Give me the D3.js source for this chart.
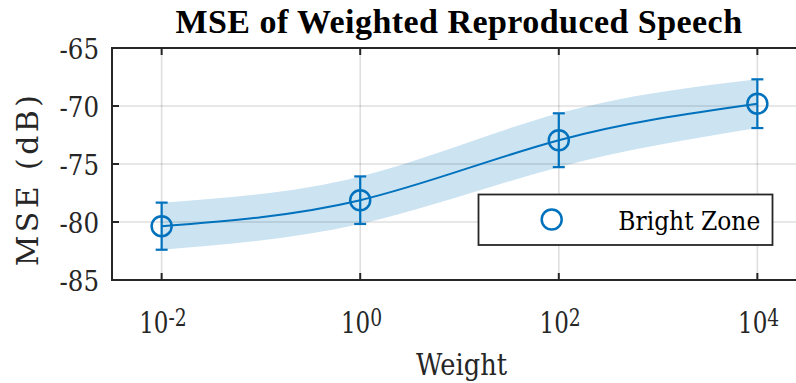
<!DOCTYPE html>
<html>
<head>
<meta charset="utf-8">
<script src="https://cdn.jsdelivr.net/npm/d3@7"></script>
<style>
  html, body { margin: 0; padding: 0; background: #fff; }
  svg { display: block; }
</style>
</head>
<body>
<svg id="chart" width="796" height="383"></svg>
<script>
// Weights (log scale) and MSE statistics of the reproduced speech in the bright zone
const weights = [1e-2, 1e0, 1e2, 1e4];
const mseMean = [-80.36, -78.12, -72.95, -69.8];
const mseStd  = [2.03, 2.05, 2.32, 2.1];
const xTickExponents = [-2, 0, 2, 4];
const yTicks = [-85, -80, -75, -70, -65];
const seriesName = "Bright Zone";

const blue = "#0072BD";
const axisColor = "#262626";
const serif = "'DejaVu Serif', serif";
const serifBold = "'Liberation Serif', 'DejaVu Serif', serif";

const svg = d3.select("#chart");
const plotL = 112, plotT = 48, plotB = 280, plotR = 807;

const x = d3.scaleLog().domain([Math.pow(10, -2.5), Math.pow(10, 4.5)]).range([plotL, plotR]);
const y = d3.scaleLinear().domain([-85, -65]).range([plotB, plotT]);

const pts = weights.map((w, i) => ({ w, m: mseMean[i], s: mseStd[i] }));

// Text narrowed horizontally so the wide serif face sits like a Times face
function narrowText(parent, px, py, k) {
  return parent.append("g")
    .attr("transform", `translate(${px},${py}) scale(${k},1)`)
    .append("text")
    .attr("font-family", serif);
}

// Shaded ±1 std band
const band = d3.area()
  .x(d => x(d.w))
  .y0(d => y(d.m - d.s))
  .y1(d => y(d.m + d.s))
  .curve(d3.curveNatural);
svg.append("path").datum(pts)
  .attr("d", band)
  .attr("fill", "rgb(204,227,242)");

// Grid lines drawn over the band
const grid = svg.append("g").attr("stroke", "rgba(38,38,38,0.15)").attr("stroke-width", 1.6);
xTickExponents.forEach(e => {
  grid.append("line").attr("x1", x(Math.pow(10, e))).attr("x2", x(Math.pow(10, e)))
    .attr("y1", plotT).attr("y2", plotB);
});
yTicks.forEach(v => {
  grid.append("line").attr("x1", plotL).attr("x2", plotR).attr("y1", y(v)).attr("y2", y(v));
});

// Mean curve
const line = d3.line().x(d => x(d.w)).y(d => y(d.m)).curve(d3.curveNatural);
svg.append("path").datum(pts)
  .attr("d", line).attr("fill", "none")
  .attr("stroke", blue).attr("stroke-width", 2);

// Error bars and markers
const eb = svg.append("g").attr("stroke", blue).attr("stroke-width", 2.2).attr("fill", "none");
pts.forEach(d => {
  const cx = x(d.w);
  eb.append("line").attr("x1", cx).attr("x2", cx).attr("y1", y(d.m + d.s)).attr("y2", y(d.m - d.s));
  eb.append("line").attr("x1", cx - 6).attr("x2", cx + 6).attr("y1", y(d.m + d.s)).attr("y2", y(d.m + d.s));
  eb.append("line").attr("x1", cx - 6).attr("x2", cx + 6).attr("y1", y(d.m - d.s)).attr("y2", y(d.m - d.s));
  eb.append("circle").attr("cx", cx).attr("cy", y(d.m)).attr("r", 10).attr("stroke-width", 2.5);
});

// Axes box (left, bottom, top) with inward ticks
const ax = svg.append("g").attr("stroke", axisColor).attr("stroke-width", 2).attr("fill", "none");
ax.append("path").attr("d", `M${plotR},${plotT}H${plotL}V${plotB}H${plotR}`);
xTickExponents.forEach(e => {
  const px = x(Math.pow(10, e));
  ax.append("line").attr("x1", px).attr("x2", px).attr("y1", plotB).attr("y2", plotB - 7);
  ax.append("line").attr("x1", px).attr("x2", px).attr("y1", plotT).attr("y2", plotT + 7);
});
yTicks.forEach(v => {
  ax.append("line").attr("x1", plotL).attr("x2", plotL + 7).attr("y1", y(v)).attr("y2", y(v));
});

// Y tick labels
const yAxisG = svg.append("g");
yTicks.forEach(v => {
  narrowText(yAxisG, plotL - 13, y(v) + 11.2, 0.86)
    .attr("text-anchor", "end").attr("font-size", 28.5).attr("fill", axisColor)
    .text(v);
});

// X tick labels as powers of ten
const xAxisG = svg.append("g");
xTickExponents.forEach(e => {
  const t = narrowText(xAxisG, x(Math.pow(10, e)) + 1.3, 333.3, 0.78)
    .attr("text-anchor", "middle").attr("font-size", 29.5).attr("fill", axisColor);
  t.append("tspan").text("10");
  t.append("tspan").attr("dy", -7.5).attr("font-size", 24).text(e);
});

// Axis titles
narrowText(svg, 461.5, 374.5, 0.886)
  .attr("text-anchor", "middle").attr("font-size", 29).attr("fill", axisColor)
  .text("Weight");
svg.append("text").attr("transform", "translate(37.5,179) rotate(-90)")
  .attr("font-family", serif).attr("fill", axisColor)
  .attr("text-anchor", "middle").attr("font-size", 30).attr("letter-spacing", 3.4)
  .text("MSE (dB)");
svg.append("text").attr("x", 459).attr("y", 33.3)
  .attr("font-family", serifBold).attr("font-weight", "bold")
  .attr("text-anchor", "middle").attr("font-size", 34).attr("letter-spacing", 0.45)
  .attr("fill", "#000").text("MSE of Weighted Reproduced Speech");

// Legend
const lg = svg.append("g");
lg.append("rect").attr("x", 478.5).attr("y", 194.5).attr("width", 294).attr("height", 50.5)
  .attr("fill", "#fff").attr("stroke", axisColor).attr("stroke-width", 1.8);
lg.append("circle").attr("cx", 551.7).attr("cy", 219.5).attr("r", 10)
  .attr("fill", "none").attr("stroke", blue).attr("stroke-width", 2.5);
narrowText(lg, 618.3, 230, 0.9)
  .attr("font-size", 26).attr("fill", "#000").text(seriesName);
</script>
</body>
</html>
